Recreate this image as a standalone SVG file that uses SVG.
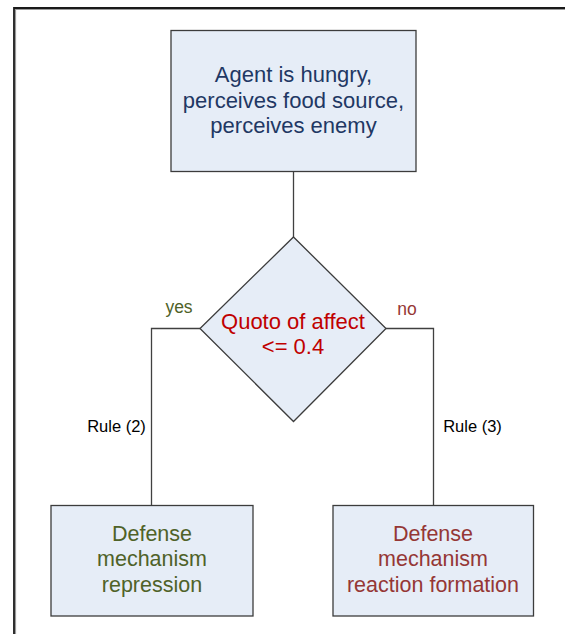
<svg xmlns="http://www.w3.org/2000/svg" width="565" height="634" viewBox="0 0 565 634">
  <style>
    .node { fill: #e6edf7; stroke: #3c3c3c; stroke-width: 1.3; }
    .conn { fill: none; stroke: #404040; stroke-width: 1.3; }
    text { font-family: "Liberation Sans", Arial, sans-serif; text-anchor: middle; }
    .big { font-size: 22px; }
    .mid { font-size: 21.5px; }
    .lbl { font-size: 16.5px; }
    .navy { fill: #1f3864; }
    .red { fill: #c00000; }
    .green { fill: #4f6228; }
    .brown { fill: #953735; }
    .black { fill: #000000; }
  </style>

  <rect x="0" y="0" width="565" height="634" fill="#ffffff"/>

  <!-- page frame -->
  <path d="M15.5,634 V9.5 H565" fill="none" stroke="#9a9a9a" stroke-width="1.2"/>
  <path d="M14,634 V8 H565" fill="none" stroke="#1a1a1a" stroke-width="1.8"/>

  <!-- connectors -->
  <g id="connectors">
    <path class="conn" d="M293.5,171.5 V237"/>
    <path class="conn" d="M200,328.5 H151.5 V505.5"/>
    <path class="conn" d="M386,328.5 H433.5 V505.5"/>
    <text class="lbl green" x="179" y="313" style="font-size:17.5px">yes</text>
    <text class="lbl brown" x="407" y="315" style="font-size:17.5px">no</text>
    <text class="lbl black" x="116.5" y="431.5">Rule (2)</text>
    <text class="lbl black" x="472.5" y="431.5">Rule (3)</text>
  </g>

  <!-- start state -->
  <g id="start">
    <rect class="node" x="171" y="30.5" width="245" height="141"/>
    <text class="big navy" x="293.5" y="82">Agent is hungry,</text>
    <text class="big navy" x="293.5" y="107.5">perceives food source,</text>
    <text class="big navy" x="293.5" y="133">perceives enemy</text>
  </g>

  <!-- decision -->
  <g id="decision">
    <polygon class="node" points="293.5,237 386,328.5 293.5,421.5 200,328.5"/>
    <text class="big red" x="293" y="328.5">Quoto of affect</text>
    <text class="big red" x="293" y="353.5">&lt;= 0.4</text>
  </g>

  <!-- outcome: repression -->
  <g id="repression">
    <rect class="node" x="51" y="505.5" width="202" height="110.5"/>
    <text class="mid green" x="152" y="540.5">Defense</text>
    <text class="mid green" x="152" y="566">mechanism</text>
    <text class="mid green" x="152" y="591.5">repression</text>
  </g>

  <!-- outcome: reaction formation -->
  <g id="reaction-formation">
    <rect class="node" x="333" y="505.5" width="200.5" height="110.5"/>
    <text class="mid brown" x="433" y="540.5">Defense</text>
    <text class="mid brown" x="433" y="566">mechanism</text>
    <text class="mid brown" x="433" y="591.5">reaction formation</text>
  </g>
</svg>
